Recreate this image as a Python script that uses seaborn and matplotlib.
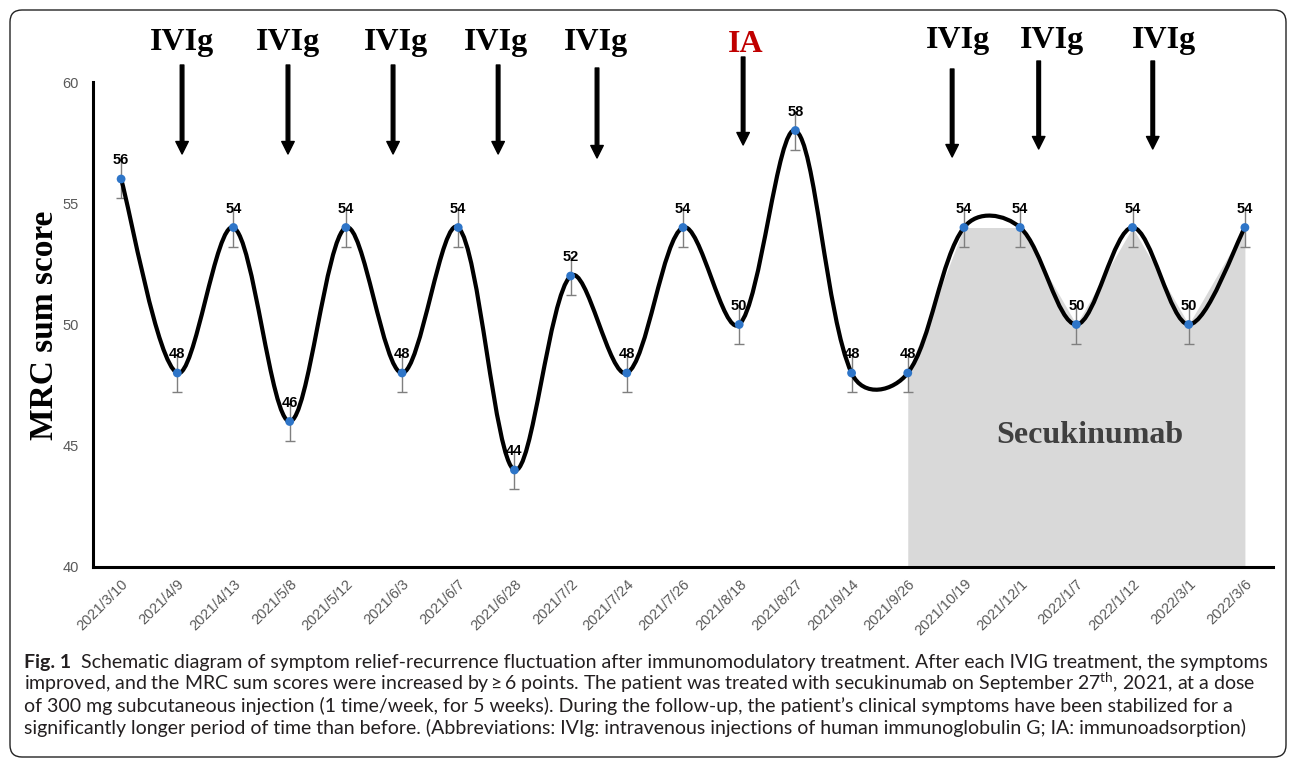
import numpy as np
import pandas as pd
import matplotlib
matplotlib.use("Agg")
import matplotlib.pyplot as plt
from matplotlib.path import Path
from matplotlib.patches import PathPatch, FancyBboxPatch
from matplotlib.transforms import IdentityTransform
import seaborn as sns

# data
dates = ["2021/3/10", "2021/4/9", "2021/4/13", "2021/5/8", "2021/5/12", "2021/6/3",
         "2021/6/7", "2021/6/28", "2021/7/2", "2021/7/24", "2021/7/26", "2021/8/18",
         "2021/8/27", "2021/9/14", "2021/9/26", "2021/10/19", "2021/12/1", "2022/1/7",
         "2022/1/12", "2022/3/1", "2022/3/6"]
scores = [56, 48, 54, 46, 54, 48, 54, 44, 52, 48, 54, 50, 58, 48, 48, 54, 54, 50, 54, 50, 54]
score_err = [0.8] * len(scores)
secu_from = "2021/9/26"

events = ["IVIg", "IVIg", "IVIg", "IVIg", "IVIg", "IA", "IVIg", "IVIg", "IVIg"]
event_colors = ["black"] * 5 + ["#c00000"] + ["black"] * 3
# arrow / label placement (x in category units, y in px from figure top)
arrow_x = [1.085, 2.97, 4.84, 6.71, 8.47, 11.07, 14.79, 16.33, 18.36]
label_x = [1.085, 2.97, 4.89, 6.67, 8.45, 11.12, 14.89, 16.57, 18.56]
arrow_top = [65, 65, 65, 65, 68, 57, 69, 61, 61]
arrow_tip = [154, 154, 154, 154, 158, 145, 157, 149, 149]
label_base = [50, 50, 50, 50, 50, 52, 48, 48, 48]

caption = [
    "Schematic diagram of symptom relief-recurrence fluctuation after immunomodulatory treatment. After each IVIG treatment, the symptoms",
    "improved, and the MRC sum scores were increased by\u2009\u2265\u20096 points. The patient was treated with secukinumab on September 27$^{\\mathrm{th}}$, 2021, at a dose",
    "of 300 mg subcutaneous injection (1 time/week, for 5 weeks). During the follow-up, the patient\u2019s clinical symptoms have been stabilized for a",
    "significantly longer period of time than before. (Abbreviations: IVIg: intravenous injections of human immunoglobulin G; IA: immunoadsorption)",
]

df = pd.DataFrame({"date": dates, "score": scores, "err": score_err})
df["pos"] = np.arange(len(df))

sns.set_style("white")
plt.rcParams["font.family"] = ["Liberation Sans", "DejaVu Sans"]
plt.rcParams["mathtext.fontset"] = "custom"
plt.rcParams["mathtext.rm"] = "Lato"

W, H = 1292, 761
fig = plt.figure(figsize=(W / 100, H / 100), dpi=100)
ax = fig.add_axes([93 / W, 1 - 567 / H, (1273 - 93) / W, (567 - 82) / H])
ax.set_xlim(-0.5, len(df) - 0.5)
ax.set_ylim(40, 60)

# secukinumab period shading
start = df.loc[df["date"] == secu_from, "pos"].iloc[0]
sec = df[df["pos"] >= start]
ax.fill_between(sec["pos"], 40, sec["score"], color="#d9d9d9", lw=0, zorder=1)

# error bars (cap only at bottom, top hidden under the labels)
ax.vlines(df["pos"], df["score"] - df["err"], df["score"] + df["err"],
          color="#7f7f7f", lw=1, zorder=2)
ax.plot(df["pos"], df["score"] - df["err"], ls="none", marker="_", ms=7, mew=1,
        color="#7f7f7f", zorder=2)


def smooth_path(xs, ys, sx, sy):
    # excel-like smoothed line as cubic beziers
    p = np.column_stack([xs, ys]).astype(float)
    q = p * [sx, sy]
    n = len(p)
    d = np.sqrt(np.hypot(*np.diff(q, axis=0).T))
    verts = [p[0]]
    codes = [Path.MOVETO]
    for i in range(n - 1):
        if i == 0:
            c1 = p[0] + (p[1] - p[0]) / 6
        else:
            c1 = p[i] + (p[i + 1] - p[i - 1]) * d[i] / (d[i - 1] + d[i]) / 3
        if i + 1 == n - 1:
            c2 = p[-1] - (p[-1] - p[-2]) / 6
        else:
            c2 = p[i + 1] - (p[i + 2] - p[i]) * d[i] / (d[i] + d[i + 1]) / 3
        verts += [c1, c2, p[i + 1]]
        codes += [Path.CURVE4] * 3
    return Path(verts, codes)


o = ax.transData.transform((0, 40))
sx = ax.transData.transform((1, 40))[0] - o[0]
sy = ax.transData.transform((0, 41))[1] - o[1]
ax.add_patch(PathPatch(smooth_path(df["pos"], df["score"], sx, sy), fill=False,
                       ec="black", lw=3, zorder=3, capstyle="round"))

sns.scatterplot(data=df, x="pos", y="score", color="#2e75c8", s=40, edgecolor="none",
                zorder=4, ax=ax, legend=False)

for x, y in zip(df["pos"], df["score"]):
    ax.annotate(str(y), (x, y), xytext=(0, 8.5), textcoords="offset points",
                ha="center", va="bottom", fontsize=10.5, fontweight="bold",
                color="black", zorder=5)

ax.text(17.24, 45.44, "Secukinumab", ha="center", va="center", fontsize=23,
        fontweight="bold", family="Liberation Serif", color="#404040", zorder=5)

# treatment arrows
for ev, c, axx, lx, t, b, bl in zip(events, event_colors, arrow_x, label_x,
                                     arrow_top, arrow_tip, label_base):
    ax.annotate("", xy=(axx, 1 - b / H), xycoords=("data", "figure fraction"),
                xytext=(axx, 1 - t / H), textcoords=("data", "figure fraction"),
                arrowprops=dict(width=2.6, headwidth=9, headlength=9,
                                facecolor="black", edgecolor="black", shrink=0),
                annotation_clip=False)
    ax.annotate(ev, xy=(lx, 1 - bl / H), xycoords=("data", "figure fraction"),
                ha="center", va="baseline", fontsize=23, fontweight="bold",
                family="Liberation Serif", color=c, annotation_clip=False)

ax.set_xticks(df["pos"])
ax.set_xticklabels(df["date"], rotation=45, ha="right", rotation_mode="anchor")
ax.set_yticks([40, 45, 50, 55, 60])
ax.tick_params(axis="both", direction="in", length=4, width=1.5, color="black",
               labelcolor="#595959", labelsize=10.5)
ax.tick_params(axis="x", pad=7)
ax.tick_params(axis="y", pad=10)
sns.despine(ax=ax)
for s in ["left", "bottom"]:
    ax.spines[s].set_linewidth(2.2)
    ax.spines[s].set_color("black")
ax.set_xlabel("")
ax.set_ylabel("")

fig.text(45 / W, 1 - 325 / H, "MRC sum score", rotation=90, ha="center", va="center",
         fontsize=24, fontweight="bold", family="Liberation Serif", color="black")

# caption
cap_font = ["Lato", "DejaVu Sans"]
cap_size = 14
t1 = fig.text(24 / W, 1 - 668 / H, "Fig. 1", fontsize=cap_size, fontweight="bold",
              family=cap_font, color="#231f20", va="baseline")
ax.annotate(caption[0], xy=(1, 0), xycoords=t1, xytext=(7, 0), textcoords="offset points",
            va="bottom", ha="left", fontsize=cap_size, family=cap_font, color="#231f20",
            annotation_clip=False)
for k, line in enumerate(caption[1:]):
    fig.text(24 / W, 1 - (690 + 22 * k) / H, line, fontsize=cap_size, family=cap_font,
             color="#231f20", va="baseline")

fig.add_artist(FancyBboxPatch((10, 4), 1276, 747, boxstyle="round,pad=0,rounding_size=12",
                              transform=IdentityTransform(), fill=False, lw=1, ec="#222222"))

fig.savefig("out.png", dpi=100)
